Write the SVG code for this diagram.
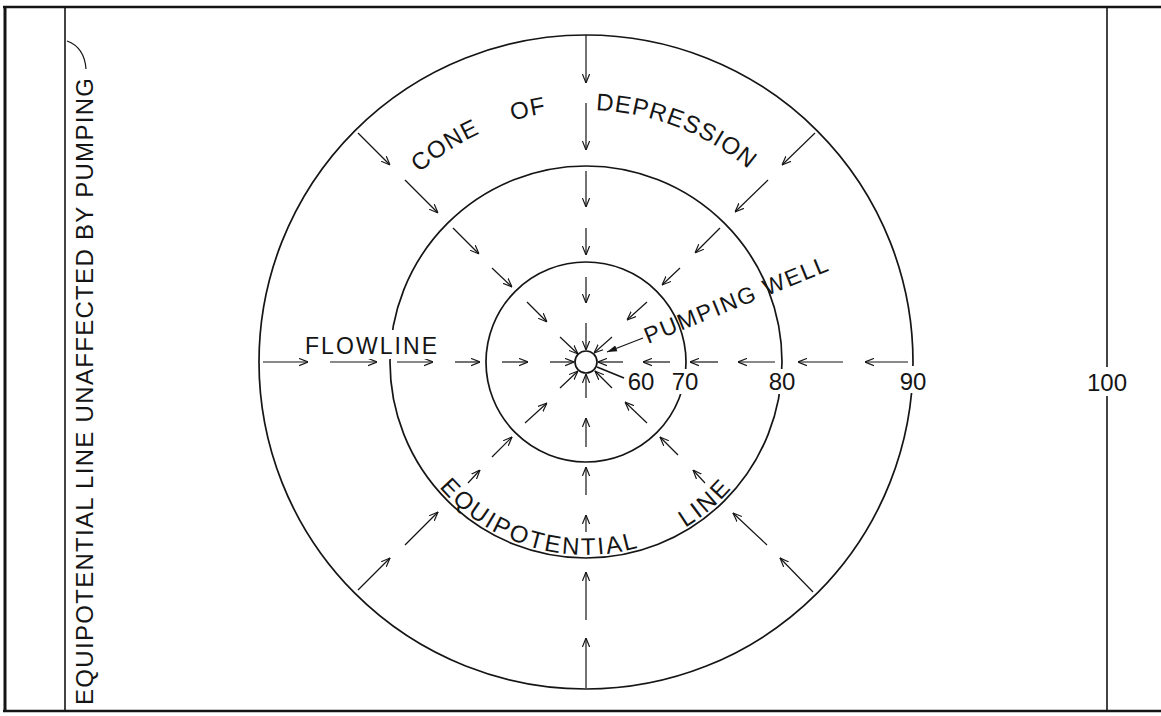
<svg xmlns="http://www.w3.org/2000/svg" width="1161" height="716" viewBox="0 0 1161 716">
<style>
  .ln{fill:none;stroke:#151515;stroke-width:1.6}
  .eq{fill:none;stroke:#151515;stroke-width:1.7}
  .ar{fill:none;stroke:#151515;stroke-width:1.2;marker-end:url(#ah)}
  .t{font-family:"Liberation Sans",Arial,sans-serif;fill:#151515}
  .k{fill:#ffffff}
</style>
<defs>
  <marker id="ah" viewBox="0 0 10 10" refX="10" refY="5" markerWidth="9" markerHeight="9" markerUnits="userSpaceOnUse" orient="auto">
    <path d="M0,1 L10,5 L0,9" fill="none" stroke="#151515" stroke-width="1.3"/>
  </marker>
  <marker id="ahf" viewBox="0 0 10 10" refX="10" refY="5" markerWidth="10" markerHeight="10" markerUnits="userSpaceOnUse" orient="auto">
    <path d="M0,2 L10,5 L0,8 Z" fill="#151515"/>
  </marker>
  <path id="arcTop" d="M334,362 A252,252 0 0 1 838,362"/>
  <path id="arcBot" d="M393,362 A193,193 0 0 0 779,362"/>
</defs>
<rect width="1161" height="716" fill="#ffffff"/>

<g id="frame">
  <line x1="3" y1="7" x2="1161" y2="7" stroke="#151515" stroke-width="2.5"/>
  <line x1="3" y1="711" x2="1161" y2="711" stroke="#151515" stroke-width="2.5"/>
  <line x1="5" y1="6" x2="5" y2="712" stroke="#151515" stroke-width="3"/>
  <line x1="65" y1="7" x2="65" y2="711" class="ln"/>
  <line x1="1107" y1="7" x2="1107" y2="711" class="ln"/>
</g>

<g id="equipotential-90"><circle cx="586" cy="362" r="327" class="eq"/></g>
<g id="equipotential-80"><circle cx="586" cy="362" r="196" class="eq"/></g>
<g id="equipotential-70"><circle cx="586" cy="362" r="100" class="eq"/></g>
<g id="pumping-well"><circle cx="586" cy="362" r="11" fill="#ffffff" stroke="#151515" stroke-width="1.7"/></g>

<g id="connectors">
  <!-- top, pointing down -->
  <line x1="586" y1="35" x2="586" y2="83" class="ar"/>
  <line x1="586" y1="103" x2="586" y2="150" class="ar"/>
  <line x1="586" y1="171" x2="586" y2="207" class="ar"/>
  <line x1="586" y1="228" x2="586" y2="255" class="ar"/>
  <line x1="586" y1="277" x2="586" y2="303" class="ar"/>
  <line x1="586" y1="323" x2="586" y2="350" class="ar"/>
  <!-- bottom, pointing up -->
  <line x1="586" y1="688" x2="586" y2="638" class="ar"/>
  <line x1="586" y1="620" x2="586" y2="572" class="ar"/>
  <line x1="586" y1="532" x2="586" y2="515" class="ar"/>
  <line x1="586" y1="495" x2="586" y2="467" class="ar"/>
  <line x1="586" y1="447" x2="586" y2="418" class="ar"/>
  <line x1="586" y1="398" x2="586" y2="374" class="ar"/>
  <!-- left, pointing right -->
  <line x1="263" y1="362" x2="308" y2="362" class="ar"/>
  <line x1="330" y1="362" x2="377" y2="362" class="ar"/>
  <line x1="397" y1="362" x2="433" y2="362" class="ar"/>
  <line x1="455" y1="362" x2="480" y2="362" class="ar"/>
  <line x1="502" y1="362" x2="528" y2="362" class="ar"/>
  <line x1="550" y1="362" x2="574" y2="362" class="ar"/>
  <!-- right, pointing left -->
  <line x1="908" y1="362" x2="865" y2="362" class="ar"/>
  <line x1="843" y1="362" x2="798" y2="362" class="ar"/>
  <line x1="775" y1="362" x2="738" y2="362" class="ar"/>
  <line x1="718" y1="362" x2="690" y2="362" class="ar"/>
  <line x1="670" y1="362" x2="643" y2="362" class="ar"/>
  <line x1="623" y1="362" x2="598" y2="362" class="ar"/>
  <!-- upper-left -->
  <line x1="358" y1="133" x2="390" y2="165" class="ar"/>
  <line x1="405" y1="180" x2="438" y2="213" class="ar"/>
  <line x1="453" y1="228" x2="479" y2="254" class="ar"/>
  <line x1="492" y1="268" x2="512" y2="287" class="ar"/>
  <line x1="527" y1="302" x2="547" y2="322" class="ar"/>
  <line x1="560" y1="337" x2="578" y2="354" class="ar"/>
  <!-- upper-right -->
  <line x1="815" y1="133" x2="782" y2="165" class="ar"/>
  <line x1="768" y1="180" x2="735" y2="212" class="ar"/>
  <line x1="720" y1="228" x2="695" y2="253" class="ar"/>
  <line x1="680" y1="268" x2="662" y2="285" class="ar"/>
  <line x1="647" y1="302" x2="627" y2="320" class="ar"/>
  <line x1="612" y1="337" x2="594" y2="353" class="ar"/>
  <!-- lower-left -->
  <line x1="358" y1="590" x2="390" y2="558" class="ar"/>
  <line x1="405" y1="545" x2="438" y2="512" class="ar"/>
  <line x1="468" y1="483" x2="480" y2="470" class="ar"/>
  <line x1="492" y1="457" x2="512" y2="437" class="ar"/>
  <line x1="525" y1="423" x2="547" y2="403" class="ar"/>
  <line x1="560" y1="388" x2="578" y2="371" class="ar"/>
  <!-- lower-right -->
  <line x1="813" y1="592" x2="780" y2="558" class="ar"/>
  <line x1="767" y1="545" x2="733" y2="513" class="ar"/>
  <line x1="705" y1="483" x2="693" y2="470" class="ar"/>
  <line x1="678" y1="455" x2="660" y2="437" class="ar"/>
  <line x1="647" y1="423" x2="625" y2="402" class="ar"/>
  <line x1="612" y1="388" x2="595" y2="371" class="ar"/>
  <!-- leaders -->
  <line x1="643" y1="338" x2="607" y2="352" fill="none" stroke="#151515" stroke-width="1.2" marker-end="url(#ahf)"/>
  <line x1="624" y1="378" x2="597" y2="367" class="ln" stroke-width="1.2"/>
  <path d="M86,69 C85,55 78,45 67,41" fill="none" stroke="#151515" stroke-width="1.2"/>
</g>

<g id="labels">
  <rect x="669" y="369" width="32" height="25" class="k"/>
  <rect x="765" y="369" width="34" height="25" class="k"/>
  <rect x="896" y="366" width="34" height="27" class="k"/>
  <rect x="1086" y="367" width="42" height="29" class="k"/>
  <rect x="303" y="330" width="137" height="29" class="k"/>
  <text class="t" x="641" y="390" font-size="24" text-anchor="middle">60</text>
  <text class="t" x="685" y="390" font-size="24" text-anchor="middle">70</text>
  <text class="t" x="782" y="390" font-size="24" text-anchor="middle">80</text>
  <text class="t" x="913" y="390" font-size="24" text-anchor="middle">90</text>
  <text class="t" x="1107" y="391" font-size="24" text-anchor="middle">100</text>
  <text class="t" x="305" y="354" font-size="23" textLength="132" lengthAdjust="spacing">FLOWLINE</text>
  <text class="t" transform="translate(648,344) rotate(-22)" font-size="23" textLength="196" lengthAdjust="spacing">PUMPING WELL</text>
  <text class="t" font-size="24" letter-spacing="1"><textPath href="#arcTop" startOffset="213.7">CONE</textPath></text>
  <text class="t" font-size="24" letter-spacing="1"><textPath href="#arcTop" startOffset="321">OF</textPath></text>
  <text class="t" font-size="24" letter-spacing="1"><textPath href="#arcTop" startOffset="405.5">DEPRESSION</textPath></text>
  <text class="t" font-size="24" letter-spacing="2.3"><textPath href="#arcBot" startOffset="136">EQUIPOTENTIAL</textPath></text>
  <text class="t" font-size="24" letter-spacing="2.3"><textPath href="#arcBot" startOffset="407">LINE</textPath></text>
  <text class="t" transform="translate(93,705) rotate(-90)" font-size="24" textLength="627" lengthAdjust="spacing">EQUIPOTENTIAL LINE UNAFFECTED BY PUMPING</text>
</g>
</svg>
